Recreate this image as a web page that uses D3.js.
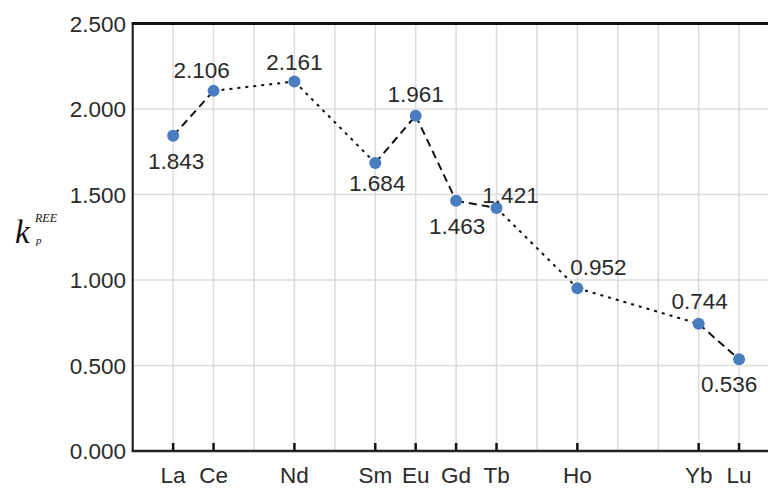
<!DOCTYPE html>
<html>
<head>
<meta charset="utf-8">
<script src="https://cdn.jsdelivr.net/npm/d3@7"></script>
<style>
  body { margin: 0; background: #fff; }
  svg { display: block; }
</style>
</head>
<body>
<svg id="chart" width="768" height="490"></svg>
<script>
// all REE slots on the x axis (gridlines at each)
const slots = ['La', 'Ce', 'Pr', 'Nd', 'Pm', 'Sm', 'Eu', 'Gd', 'Tb', 'Dy', 'Ho', 'Er', 'Tm', 'Yb', 'Lu'];
// measured elements
const elements = ['La', 'Ce', 'Nd', 'Sm', 'Eu', 'Gd', 'Tb', 'Ho', 'Yb', 'Lu'];
const kpValues = [1.843, 2.106, 2.161, 1.684, 1.961, 1.463, 1.421, 0.952, 0.744, 0.536];
const yTicks = [0, 0.5, 1.0, 1.5, 2.0, 2.5];

// where each value label sits relative to its point
const labelPlace = {
    La: [3, 33], Ce: [-12, -13], Nd: [0, -11], Sm: [2, 28], Eu: [0, -14],
    Gd: [1, 33], Tb: [14, -5], Ho: [21, -13], Yb: [1, -15], Lu: [-10, 33]
};

const FONT = 'Liberation Sans, Arial, Helvetica, sans-serif';
const svg = d3.select('#chart');
const idx = (name) => slots.indexOf(name);

const x = d3.scaleLinear().domain([-1, slots.length]).range([132.7, 779.5]);
const y = d3.scaleLinear().domain([0, 2.5]).range([451, 23.5]);

// gridlines
svg.append('g')
    .selectAll('line')
    .data(slots)
    .enter()
    .append('line')
    .attr('x1', (d) => x(idx(d)))
    .attr('x2', (d) => x(idx(d)))
    .attr('y1', y(2.5))
    .attr('y2', y(0))
    .attr('stroke', '#dcdcdc')
    .attr('stroke-width', 1.5);

svg.append('g')
    .selectAll('line')
    .data(yTicks.slice(1, -1))
    .enter()
    .append('line')
    .attr('x1', x(-1))
    .attr('x2', 768)
    .attr('y1', (d) => y(d))
    .attr('y2', (d) => y(d))
    .attr('stroke', '#dcdcdc')
    .attr('stroke-width', 1.5);

// frame: left, bottom, top
svg.append('line')
    .attr('x1', x(-1)).attr('x2', x(-1))
    .attr('y1', y(2.5) - 1).attr('y2', y(0) + 1)
    .attr('style', 'stroke: #111; stroke-width: 2px;');
svg.append('line')
    .attr('x1', x(-1) - 1).attr('x2', 768)
    .attr('y1', y(0)).attr('y2', y(0))
    .attr('style', 'stroke: #222; stroke-width: 2.5px;');
svg.append('line')
    .attr('x1', x(-1) - 1).attr('x2', 768)
    .attr('y1', y(2.5)).attr('y2', y(2.5))
    .attr('style', 'stroke: #111; stroke-width: 3px;');

// y tick labels
svg.append('g')
    .selectAll('text')
    .data(yTicks)
    .enter()
    .append('text')
    .attr('x', 126)
    .attr('y', (d) => y(d) + 8)
    .attr('text-anchor', 'end')
    .attr('font-family', FONT)
    .attr('font-size', 22.5)
    .attr('fill', '#2a2a2a')
    .text((d) => d3.format('.3f')(d));

// x ticks and labels (only measured elements)
svg.append('g')
    .selectAll('line')
    .data(elements)
    .enter()
    .append('line')
    .attr('x1', (d) => x(idx(d)))
    .attr('x2', (d) => x(idx(d)))
    .attr('y1', y(0) - 8)
    .attr('y2', y(0))
    .attr('stroke', '#111')
    .attr('stroke-width', 2.5);

svg.append('g')
    .selectAll('text')
    .data(elements)
    .enter()
    .append('text')
    .attr('x', (d) => x(idx(d)))
    .attr('y', 483)
    .attr('text-anchor', 'middle')
    .attr('font-family', FONT)
    .attr('font-size', 22.5)
    .attr('fill', '#2a2a2a')
    .text((d) => d);

// connecting segments: dashed between neighbours, dotted across gaps
const points = elements.map((e, i) => ({ name: e, i: idx(e), v: kpValues[i] }));
const segs = d3.pairs(points);
svg.append('g')
    .selectAll('line')
    .data(segs)
    .enter()
    .append('line')
    .attr('x1', (d) => x(d[0].i))
    .attr('y1', (d) => y(d[0].v))
    .attr('x2', (d) => x(d[1].i))
    .attr('y2', (d) => y(d[1].v))
    .attr('stroke', '#111')
    .attr('stroke-width', 2)
    .attr('stroke-dasharray', (d) => (d[1].i - d[0].i === 1 ? '8,5' : '3,5'));

// points
svg.append('g')
    .selectAll('circle')
    .data(points)
    .enter()
    .append('circle')
    .attr('cx', (d) => x(d.i))
    .attr('cy', (d) => y(d.v))
    .attr('r', 6)
    .attr('fill', '#4a7dbf');

// value labels
svg.append('g')
    .selectAll('text')
    .data(points)
    .enter()
    .append('text')
    .attr('x', (d) => x(d.i) + labelPlace[d.name][0])
    .attr('y', (d) => y(d.v) + labelPlace[d.name][1])
    .attr('text-anchor', 'middle')
    .attr('font-family', FONT)
    .attr('font-size', 22.5)
    .attr('fill', '#2a2a2a')
    .text((d) => d3.format('.3f')(d.v));

// y axis title: k_p^REE
const title = svg.append('g').attr('font-family', 'Liberation Serif, Times New Roman, serif')
    .attr('font-style', 'italic').attr('fill', '#111');
title.append('text').attr('x', 15).attr('y', 243).attr('font-size', 33).text('k');
title.append('text').attr('x', 35).attr('y', 222).attr('font-size', 12).text('REE');
title.append('text').attr('x', 36).attr('y', 244).attr('font-size', 11).text('p');
</script>
</body>
</html>
